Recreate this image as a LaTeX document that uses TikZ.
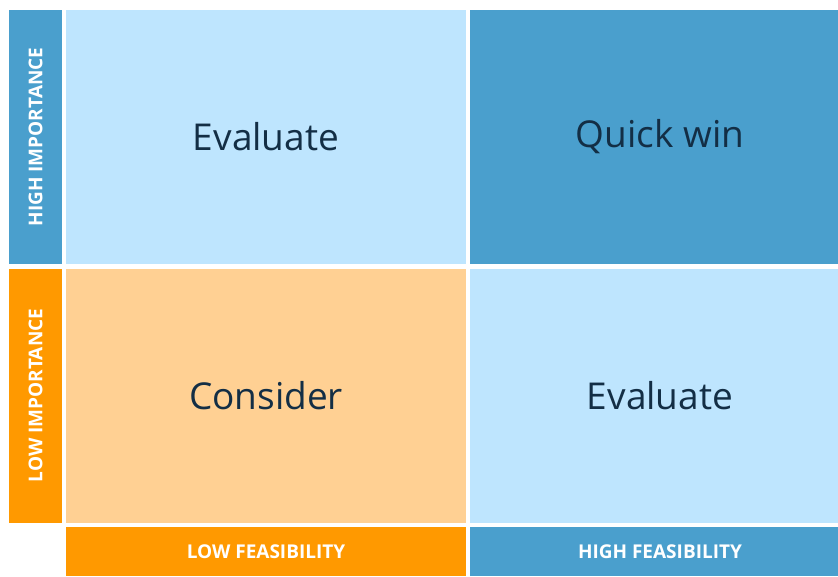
\documentclass[tikz,border=0pt]{standalone}
\usepackage{fontspec}
\setmainfont{Open Sans}
\usetikzlibrary{matrix}

\definecolor{paleblue}{HTML}{BEE5FE}
\definecolor{deepblue}{HTML}{4A9FCD}
\definecolor{amber}{HTML}{FF9900}
\definecolor{paleamber}{HTML}{FFD093}
\definecolor{inkblue}{HTML}{132E45}

\begin{document}
\begin{tikzpicture}[
    big/.style={font=\fontsize{37}{41}\selectfont, text=inkblue},
    tag/.style={font=\bfseries\fontsize{19}{22}\selectfont, text=white},
    pb/.style={fill=paleblue, big},
    db/.style={fill=deepblue, big},
    pa/.style={fill=paleamber, big},
    ta/.style={fill=amber, tag},
    tb/.style={fill=deepblue, tag}]
  \useasboundingbox (0,0) rectangle (838pt,-576pt);
    \matrix (m) at (9pt,-10pt) [matrix of nodes, anchor=north west,
      inner sep=0pt, outer sep=0pt,
      nodes={outer sep=0pt, inner sep=0pt, anchor=center},
      column 1/.style={nodes={minimum width=53pt}},
      column 2/.style={nodes={minimum width=399pt}},
      column 3/.style={nodes={minimum width=380pt}},
      row 1/.style={nodes={minimum height=254pt}},
      row 2/.style={nodes={minimum height=254pt}},
      row 3/.style={nodes={minimum height=49pt}},
    column sep=4.5pt, row sep=4.5pt] {
      |[tb]| \rotatebox{90}{HIGH IMPORTANCE} & |[pb]| Evaluate & |[db]| Quick win \\
      |[ta]| \rotatebox{90}{LOW IMPORTANCE}  & |[pa]| Consider & |[pb]| Evaluate \\
                                             & |[ta]| LOW FEASIBILITY & |[tb]| HIGH FEASIBILITY \\
    };
  \end{tikzpicture}
\end{document}
